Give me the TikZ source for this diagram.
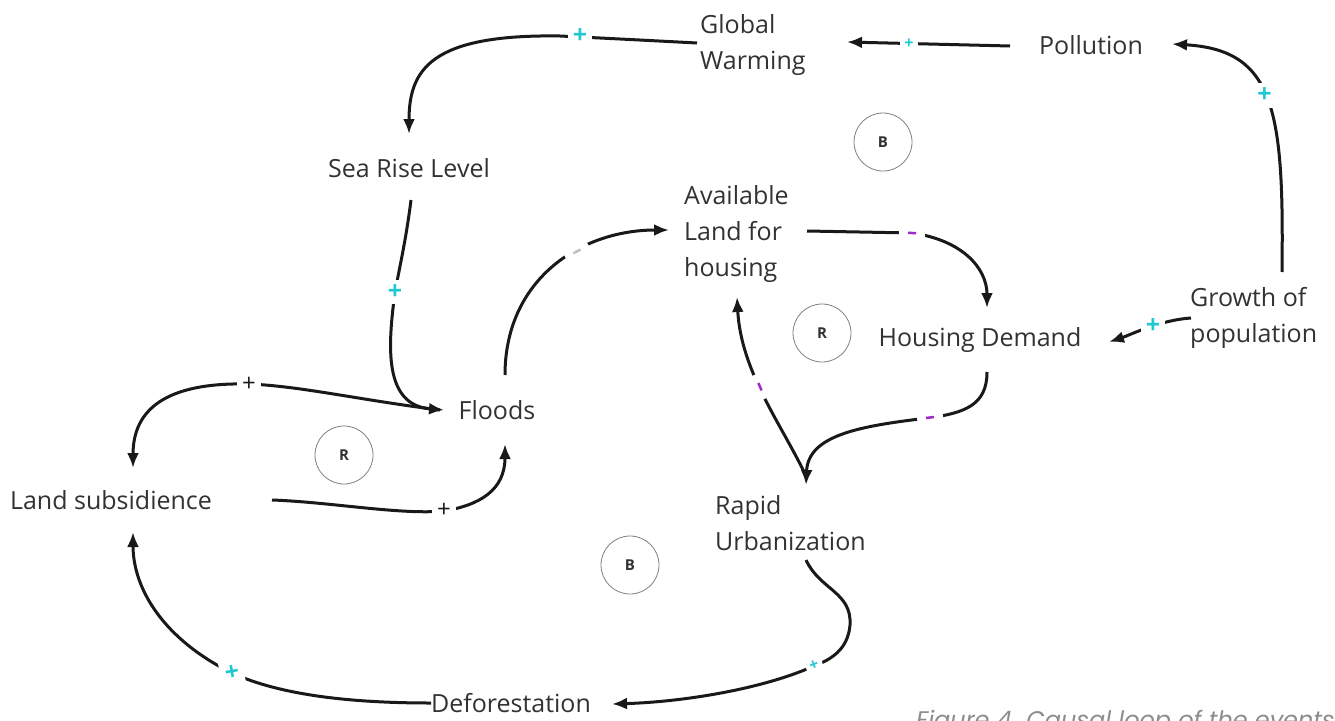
\documentclass[tikz,border=0pt]{standalone}
\usepackage{fontspec}
\setmainfont{Open Sans}
\newfontfamily\capfont{Poppins}
\usetikzlibrary{arrows.meta}
\definecolor{cy}{RGB}{30,200,210}
\definecolor{pu}{RGB}{160,40,200}
\definecolor{tx}{RGB}{50,50,50}
\definecolor{ln}{RGB}{25,25,25}
\begin{document}
\begin{tikzpicture}[x=1pt,y=-1pt,
 lbl/.style={font=\fontsize{25}{36}\selectfont, text=tx, align=left, inner sep=0pt},
 link/.style={draw=ln, line width=3pt, -{Latex[length=15pt,width=12pt]}},
 pl/.style={fill=white, inner sep=5pt, text=cy, font=\bfseries\fontsize{25}{25}\selectfont},
 spl/.style={fill=white, inner sep=4pt, text=cy, font=\bfseries\fontsize{16}{16}\selectfont},
 bpl/.style={fill=white, inner sep=5pt, text=ln, font=\fontsize{24}{24}\selectfont},
 mn/.style={fill=white, sloped, inner sep=0pt, minimum width=26pt, minimum height=9pt,
   path picture={\draw[#1, line width=2.5pt, -] ([xshift=-4pt]path picture bounding box.center) -- ([xshift=4pt]path picture bounding box.center);}},
 loopc/.style={circle, draw=gray, line width=0.8pt, minimum size=58pt, inner sep=0pt,
   font=\bfseries\fontsize{15}{15}\selectfont, text=tx}]
\useasboundingbox[fill=white] (0,0) rectangle (1335,720);

% nodes
\node[lbl, anchor=west] (gw) at (700,45) {Global\\Warming};
\node[lbl] (pol) at (1091,45) {Pollution};
\node[lbl] (srl) at (409,168) {Sea Rise Level};
\node[lbl, anchor=west] (alh) at (684,234) {Available\\Land for\\housing};
\node[lbl] (hd) at (980,340) {Housing Demand};
\node[lbl, anchor=west] (gop) at (1190,318) {Growth of\\population};
\node[lbl] (fl) at (497,410) {Floods};
\node[lbl] (ls) at (111,500) {Land subsidience};
\node[lbl, anchor=west] (ru) at (715,523) {Rapid\\Urbanization};
\node[lbl] (def) at (511,703) {Deforestation};

% loop markers
\node[loopc] (b1) at (883,142) {B};
\node[loopc] (r1) at (822,333) {R};
\node[loopc] (r2) at (344,455) {R};
\node[loopc] (b2) at (630,565) {B};

% connector end points
\coordinate (gwO) at (697,43);
\coordinate (srlI) at (409,134);
\coordinate (polO) at (1010,46);
\coordinate (gwI) at (847,42);
\coordinate (gopU) at (1282,272);
\coordinate (polI) at (1172,44);
\coordinate (gopL) at (1191,318);
\coordinate (hdI) at (1109,342);
\coordinate (alhO) at (807,231);
\coordinate (hdT) at (987,308);
\coordinate (hdO) at (987,372);
\coordinate (ruT) at (806,485);
\coordinate (ruS) at (806,476);
\coordinate (alhI) at (737,297);
\coordinate (flU) at (505,375);
\coordinate (alhL) at (669,230);
\coordinate (srlO) at (411,200);
\coordinate (flI) at (444,410);
\coordinate (flS) at (440,410);
\coordinate (lsI) at (133,468);
\coordinate (lsO) at (272,500);
\coordinate (flB) at (505,444);
\coordinate (ruO) at (806,560);
\coordinate (defI) at (612,704);
\coordinate (defO) at (431,703);
\coordinate (lsB) at (133,532);

% connectors
\draw[link] (gwO) .. controls (640,40) .. (560,36) .. controls (430,34) and (409,70) .. (srlI);
\path (580,36) node[pl] {+};
\draw[link] (polO) -- (gwI) node[spl, pos=0.62] {+};
\draw[link] (gopU) .. controls (1284,110) and (1275,50) .. (polI) node[pl, pos=0.52] {+};
\draw[link] (gopL) .. controls (1160,320) and (1130,335) .. (hdI) node[pl, pos=0.42] {+};
\draw[link] (alhO) -- (912,233) .. controls (962,240) and (987,268) .. (hdT);
\path (alhO) -- (912,233) node[mn=pu, pos=1] {};
\draw[link] (hdO) .. controls (987,405) and (965,413) .. (928,418) .. controls (860,426) and (808,435) .. (ruT);
\path (950,415) -- (910,420) node[mn=pu, pos=0.5] {};
\draw[link] (ruS) .. controls (782,425) and (741,372) .. (alhI) node[mn=pu, pos=0.55] {};
\draw[link] (flU) .. controls (505,280) and (580,230) .. (alhL) node[mn=gray!50, pos=0.62] {};
\draw[link] (srlO) .. controls (406,240) and (399,270) .. (395,292) .. controls (388,345) and (383,405) .. (flI);
\path (395,292) node[pl] {+};
\draw[link] (flS) .. controls (360,400) and (300,386) .. (249,384) .. controls (165,382) and (133,410) .. (lsI);
\path (249,384) node[bpl] {+};
\draw[link] (lsO) .. controls (330,502) and (400,515) .. (444,511) .. controls (480,505) and (505,490) .. (flB);
\path (444,510) node[bpl] {+};
\draw[link] (ruO) .. controls (820,590) and (852,592) .. (850,625) .. controls (848,650) and (830,660) .. (814,666)
  .. controls (760,690) and (680,702) .. (defI);
\path (814,665) node[spl, rotate=20] {+};
\draw[link] (defO) .. controls (350,703) and (280,695) .. (232,673) .. controls (165,640) and (133,590) .. (lsB);
\path (232,673) node[pl, rotate=10] {+};

% caption
\node[anchor=base west, inner sep=0pt, font=\capfont\itshape\fontsize{24}{24}\selectfont, text=gray!90] (cap) at (916,728) {Figure 4. Causal loop of the events};
\end{tikzpicture}
\end{document}
